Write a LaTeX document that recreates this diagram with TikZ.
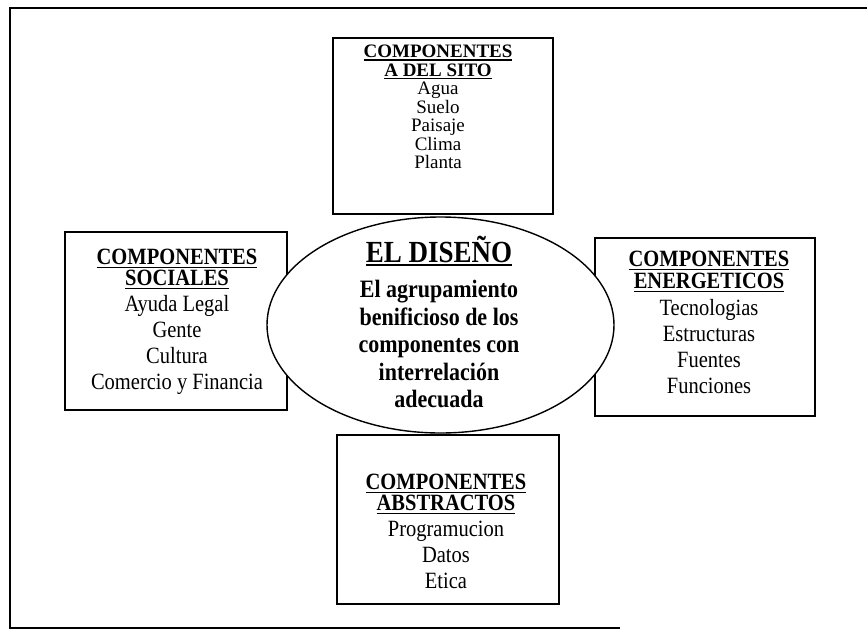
\documentclass[tikz,border=0pt]{standalone}
\usepackage{fontspec}
\setmainfont{Liberation Serif}[FakeStretch=0.88]
\newfontfamily\plainserif{Liberation Serif}
\usetikzlibrary{shapes.geometric}
\newcommand\myul[1]{\setbox0\hbox{#1}\leavevmode\rlap{\rule[-3.5pt]{\wd0}{1.6pt}}\box0}
\newcommand\myulthin[1]{\setbox0\hbox{#1}\leavevmode\rlap{\rule[-3pt]{\wd0}{1.3pt}}\box0}
\lineskiplimit=-20pt
\begin{document}
\lineskiplimit=-20pt
\begin{tikzpicture}[x=1pt,y=-1pt,
  compbox/.style={draw, line width=1.4pt, inner sep=0pt, fill=white},
  comptext/.style={anchor=north, align=center, inner sep=0pt, font=\fontsize{23.3}{26}\selectfont},
  toptext/.style={anchor=north, align=center, inner sep=0pt, font=\plainserif\fontsize{19}{18.5}\selectfont},
  core/.style={draw, ellipse, line width=1.4pt, fill=white, inner sep=0pt},
  frameline/.style={line width=2.6pt}
]
\useasboundingbox (0,0) rectangle (867,638);
% frame
\draw[frameline] (867,8) -- (10,8) -- (10,628) -- (620,628);
% boxes
\node[compbox, minimum width=220pt, minimum height=176pt] (sitio) at (443,126) {};
\node[compbox, minimum width=222pt, minimum height=178pt] (social) at (176,321) {};
\node[compbox, minimum width=220pt, minimum height=178pt] (energ) at (705,327) {};
\node[compbox, minimum width=222pt, minimum height=169pt] (abstr) at (448,519.5) {};
% ellipse
\node[core, minimum width=347pt, minimum height=216pt] (diseno) at (440.5,325) {};
% texts
\node[toptext] (sitiotxt) at (438,45) {\myulthin{\textbf{COMPONENTES}}\\
  \myulthin{\textbf{A DEL SITO}}\\ Agua\\ Suelo\\ Paisaje\\ Clima\\ Planta};
\node[comptext] (socialtxt) at (177,249) {\myul{\textbf{COMPONENTES}}\\[-5pt]
  \myul{\textbf{SOCIALES}}\\ Ayuda Legal\\ Gente\\ Cultura\\ Comercio y Financia};
\node[comptext] (energtxt) at (709,251) {\myul{\textbf{COMPONENTES}}\\[-4pt]
  \myul{\textbf{ENERGETICOS}}\\[1pt] Tecnologias\\ Estructuras\\ Fuentes\\ Funciones};
\node[comptext] (abstrtxt) at (446,474) {\myul{\textbf{COMPONENTES}}\\[-5pt]
  \myul{\textbf{ABSTRACTOS}}\\ Programucion\\ Datos\\ Etica};
\node[anchor=base, inner sep=0pt, font=\fontsize{30.7}{32}\selectfont\bfseries] (titulo) at (439,262) {\myul{EL DISEÑO}};
\node[anchor=north, align=center, inner sep=0pt, font=\fontsize{25}{27.5}\selectfont\bfseries] (def) at (439,280)
  {El agrupamiento\\ benificioso de los\\ componentes con\\ interrelación\\ adecuada};
\end{tikzpicture}
\end{document}
